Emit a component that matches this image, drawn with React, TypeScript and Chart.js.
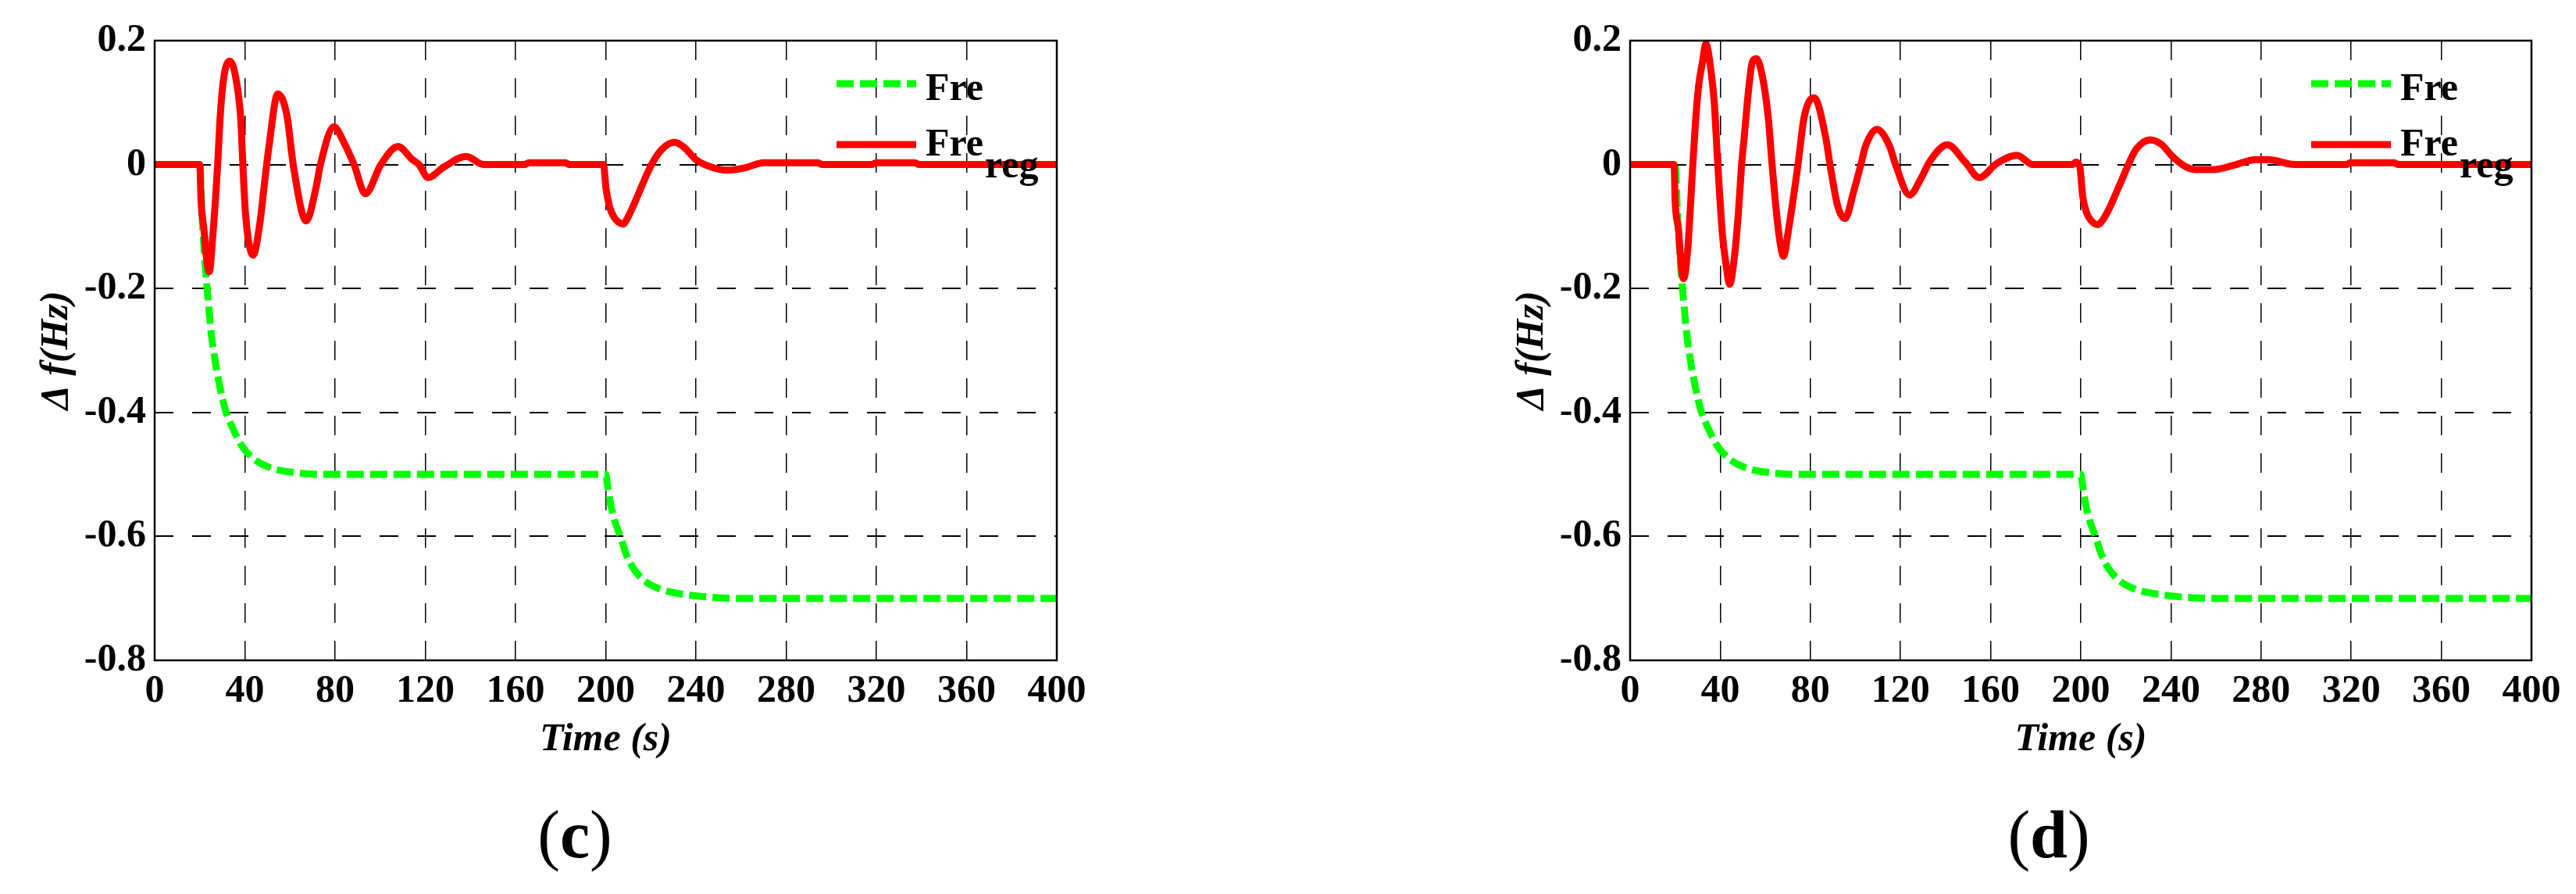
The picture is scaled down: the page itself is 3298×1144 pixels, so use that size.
import React, { useEffect, useRef } from "react";
import Chart from "chart.js/auto";
import type { ChartConfiguration, Plugin } from "chart.js";

const RED = "#ff0000";
const GREEN = "#00ff00";
const SERIF = "'Liberation Serif', 'Times New Roman', serif";

const xTicks = [0, 40, 80, 120, 160, 200, 240, 280, 320, 360, 400];
const yTicks = [0.2, 0, -0.2, -0.4, -0.6, -0.8];
const yTickLabels = ["0.2", "0", "-0.2", "-0.4", "-0.6", "-0.8"];

// Fre (no regulation), same in both panels
const freTime = [0, 20, 21, 22, 23, 24, 25, 26.5, 29, 31.7, 34.6, 38.5, 44, 52, 62, 75, 200, 200.7, 202, 204, 206.5, 209, 212, 217, 224, 232, 240, 250, 260, 400];
const freValues = [0, 0, -0.08, -0.14, -0.19, -0.23, -0.27, -0.31, -0.36, -0.4, -0.425, -0.453, -0.475, -0.49, -0.497, -0.5, -0.5, -0.515, -0.545, -0.575, -0.6, -0.628, -0.65, -0.671, -0.685, -0.692, -0.696, -0.699, -0.7, -0.7];

// Fre_reg, panel (c)
const regTimeC = [0, 20, 20.6, 21.9, 22.9, 24.2, 25.8, 27.8, 29.2, 30.8, 33.4, 36.4, 38.2, 39.1, 40.3, 43.7, 46.7, 48.7, 50.7, 54.6, 58.6, 61.6, 67.2, 71.5, 73.5, 79.5, 84, 88.4, 93.4, 100.3, 107.9, 114.3, 117.2, 121.2, 128.2, 138.1, 146, 164, 166, 182, 184, 199, 200.1, 201.7, 203.7, 205.7, 207.6, 210.5, 213.6, 217.6, 220.6, 225, 230.5, 235, 240, 246, 254, 262, 270, 294, 296, 318, 320, 337, 339, 400];
const regValuesC = [0, 0, -0.06, -0.106, -0.148, -0.173, -0.114, -0.008, 0.085, 0.144, 0.167, 0.131, 0.072, 0, -0.08, -0.146, -0.093, -0.03, 0.03, 0.114, 0.08, -0.004, -0.091, -0.038, 0, 0.061, 0.035, 0, -0.047, 0, 0.029, 0.008, 0, -0.021, -0.004, 0.013, 0, 0, 0.003, 0.003, 0, 0, -0.038, -0.068, -0.085, -0.093, -0.096, -0.08, -0.055, -0.021, 0.002, 0.025, 0.036, 0.027, 0.008, -0.003, -0.009, -0.005, 0.003, 0.003, 0, 0, 0.003, 0.003, 0, 0];

// Fre_reg, panel (d)
const regTimeD = [0, 19.5, 20, 21.5, 22.4, 23.7, 25.5, 27.7, 29, 30.4, 32.1, 33.6, 35.7, 37.4, 38.7, 41, 42.4, 44.2, 46.3, 48, 49.4, 50.7, 52.5, 54.2, 56, 58.6, 61.3, 63, 64.8, 66.6, 68, 70.5, 74.5, 77.2, 81.6, 86.9, 88.7, 92.2, 95.4, 99.3, 102.4, 104.5, 109.5, 115.1, 117.8, 124, 129.3, 132.8, 140.8, 148.7, 154.9, 162.8, 171.7, 178.7, 196.4, 197.8, 199.6, 200.8, 202.5, 204.5, 207.5, 210, 213, 216, 219, 221.1, 224.6, 230.8, 236, 240.7, 245.9, 251.2, 259, 268, 277.6, 283, 295, 318, 319.5, 339, 341, 400];
const regValuesD = [0, 0, -0.06, -0.106, -0.152, -0.184, -0.14, -0.008, 0.068, 0.127, 0.165, 0.195, 0.157, 0.097, 0.013, -0.114, -0.157, -0.193, -0.148, -0.08, -0.004, 0.047, 0.118, 0.165, 0.171, 0.144, 0.076, 0, -0.072, -0.127, -0.148, -0.1, 0, 0.076, 0.108, 0.042, 0, -0.068, -0.087, -0.042, 0, 0.03, 0.057, 0.03, 0, -0.049, -0.021, 0.004, 0.032, 0.004, -0.021, 0.002, 0.015, 0, 0, 0.004, -0.004, -0.05, -0.077, -0.09, -0.097, -0.088, -0.068, -0.043, -0.018, 0, 0.025, 0.04, 0.032, 0.013, -0.002, -0.008, -0.008, -0.001, 0.008, 0.008, 0, 0, 0.003, 0.003, 0, 0];

const PANEL_W = 1649;
const PANEL_H = 1144;

const toPoints = (xs: number[], ys: number[]) => xs.map((x, i) => ({ x, y: ys[i] }));

// frame round the plot area, and the legend with the subscript
const frameLegendPlugin: Plugin = {
    id: "frameLegend",
    afterDatasetsDraw(chart) {
        const { ctx, chartArea } = chart;
        const { left, right, top, bottom } = chartArea;
        ctx.save();
        ctx.strokeStyle = "#000";
        ctx.lineWidth = 2.5;
        ctx.setLineDash([]);
        ctx.strokeRect(left, top, right - left, bottom - top);

        const x1 = right - 282;
        const x2 = right - 180;
        const tx = right - 168;

        ctx.lineWidth = 9;
        ctx.lineCap = "butt";
        ctx.strokeStyle = GREEN;
        ctx.setLineDash([22, 8]);
        ctx.beginPath();
        ctx.moveTo(x1, top + 55);
        ctx.lineTo(x2, top + 55);
        ctx.stroke();

        ctx.setLineDash([]);
        ctx.lineWidth = 9;
        ctx.strokeStyle = RED;
        ctx.beginPath();
        ctx.moveTo(x1, top + 133);
        ctx.lineTo(x2, top + 133);
        ctx.stroke();

        ctx.fillStyle = "#000";
        ctx.font = `bold 50px ${SERIF}`;
        ctx.textAlign = "left";
        ctx.textBaseline = "alphabetic";
        ctx.fillText("Fre", tx, top + 76);
        ctx.fillText("Fre", tx, top + 147);
        const w = ctx.measureText("Fre").width;
        ctx.fillText("reg", tx + w + 2, top + 175);
        ctx.restore();
    },
};

const FrePanel: React.FC<{
    regTime: number[];
    regValues: number[];
    left: number;
    padLeft: number;
    padRight: number;
    tag: string;
    tagX: number;
}> = ({ regTime, regValues, left, padLeft, padRight, tag, tagX }) => {
    const canvasRef = useRef<HTMLCanvasElement | null>(null);

    useEffect(() => {
        const canvas = canvasRef.current;
        if (!canvas) return;

        const tickFont = { family: SERIF, size: 50, weight: "bold" as const };
        const titleFont = { family: SERIF, size: 50, weight: "bold" as const, style: "italic" as const };

        const config: ChartConfiguration<"line"> = {
            type: "line",
            data: {
                datasets: [
                    {
                        label: "Fre_reg",
                        data: toPoints(regTime, regValues),
                        borderColor: RED,
                        borderWidth: 9,
                        pointRadius: 0,
                        cubicInterpolationMode: "monotone",
                        borderJoinStyle: "round",
                    },
                    {
                        label: "Fre",
                        data: toPoints(freTime, freValues),
                        borderColor: GREEN,
                        borderWidth: 9,
                        borderDash: [22, 8],
                        borderCapStyle: "butt",
                        pointRadius: 0,
                        cubicInterpolationMode: "monotone",
                    },
                ],
            },
            options: {
                responsive: false,
                animation: false,
                devicePixelRatio: 1,
                layout: {
                    padding: { left: padLeft, right: padRight, top: 52, bottom: 144 },
                },
                plugins: {
                    legend: { display: false },
                    tooltip: { enabled: false },
                },
                scales: {
                    x: {
                        type: "linear",
                        min: 0,
                        max: 400,
                        afterBuildTicks: (scale) => {
                            scale.ticks = xTicks.map((value) => ({ value }));
                        },
                        afterFit: (scale) => {
                            scale.height = 155;
                        },
                        ticks: {
                            color: "#000",
                            font: tickFont,
                            padding: 10,
                            maxRotation: 0,
                            autoSkip: false,
                            callback: (value) => String(value),
                        },
                        grid: { color: "#000", lineWidth: 1.5, drawTicks: false },
                        border: { display: false, dash: [25, 23] },
                        title: {
                            display: true,
                            text: "Time (s)",
                            color: "#000",
                            font: titleFont,
                            padding: { top: 0, bottom: 23 },
                        },
                    },
                    y: {
                        type: "linear",
                        min: -0.8,
                        max: 0.2,
                        afterBuildTicks: (scale) => {
                            scale.ticks = yTicks.map((value) => ({ value }));
                        },
                        afterFit: (scale) => {
                            scale.width = 198;
                        },
                        ticks: {
                            color: "#000",
                            font: tickFont,
                            padding: 11,
                            autoSkip: false,
                            callback: (_value, index) => yTickLabels[index],
                        },
                        grid: { color: "#000", lineWidth: 2, drawTicks: false },
                        border: { display: false, dash: [24, 24] },
                        title: {
                            display: true,
                            text: "\u0394 f(Hz)",
                            color: "#000",
                            font: titleFont,
                            padding: { top: 43, bottom: 0 },
                        },
                    },
                },
            },
            plugins: [frameLegendPlugin],
        };

        const chart = new Chart(canvas, config);
        return () => {
            chart.destroy();
        };
    }, [regTime, regValues, padLeft, padRight]);

    return (
        <>
            <canvas
                ref={canvasRef}
                width={PANEL_W}
                height={PANEL_H}
                style={{ position: "absolute", left, top: 0, width: PANEL_W, height: PANEL_H }}
            />
            <div
                style={{
                    position: "absolute",
                    left: left + tagX - 200,
                    top: 1025,
                    width: 400,
                    textAlign: "center",
                    fontFamily: SERIF,
                    fontSize: 86,
                    lineHeight: "86px",
                    color: "#000",
                }}
            >
                (<b>{tag}</b>)
            </div>
        </>
    );
};

export default function App() {
    return (
        <div style={{ position: "relative", width: 3298, height: 1144, background: "#fff", overflow: "hidden" }}>
            <style>{"body{margin:0}"}</style>
            <FrePanel regTime={regTimeC} regValues={regValuesC} left={0} padLeft={0} padRight={296} tag="c" tagX={736} />
            <FrePanel regTime={regTimeD} regValues={regValuesD} left={PANEL_W} padLeft={240} padRight={57} tag="d" tagX={974} />
        </div>
    );
}
